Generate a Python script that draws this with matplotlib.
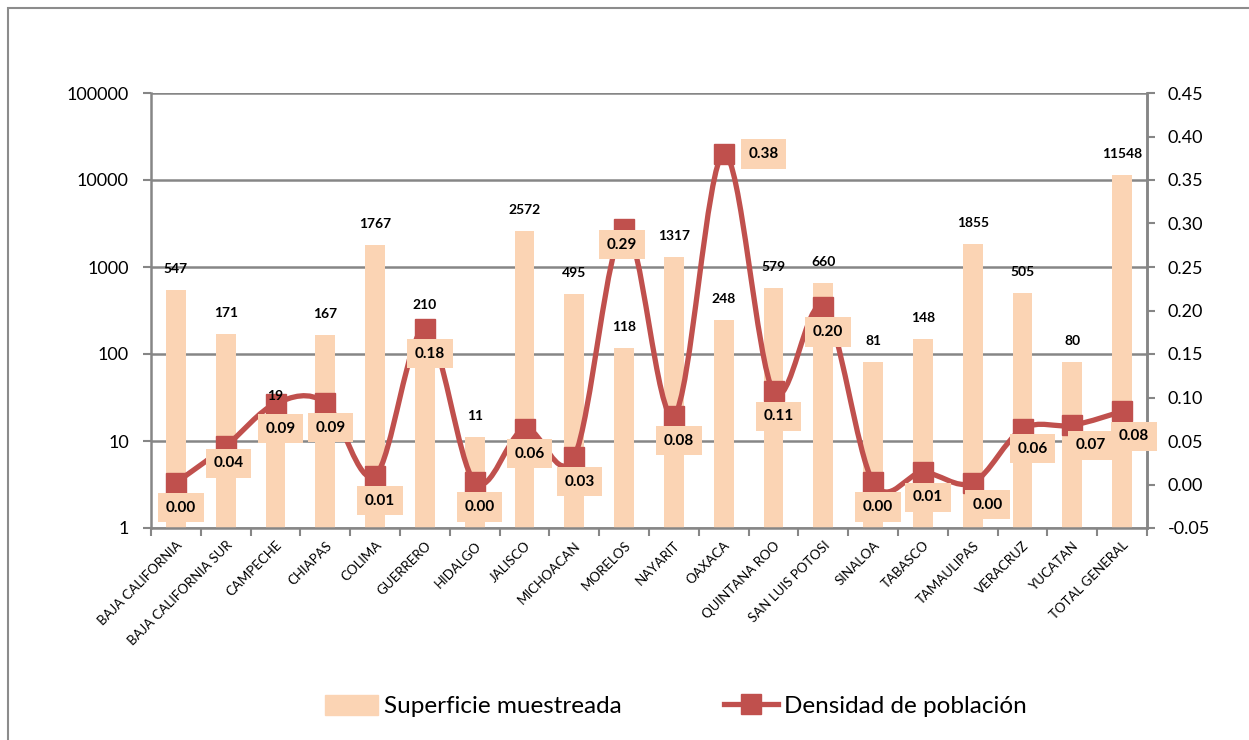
import numpy as np
import matplotlib.pyplot as plt
from matplotlib.path import Path
from matplotlib.patches import PathPatch, Rectangle

plt.rcParams['font.family'] = ['Lato', 'DejaVu Sans']

estados = ['BAJA CALIFORNIA', 'BAJA CALIFORNIA SUR', 'CAMPECHE', 'CHIAPAS', 'COLIMA',
           'GUERRERO', 'HIDALGO', 'JALISCO', 'MICHOACAN', 'MORELOS', 'NAYARIT', 'OAXACA',
           'QUINTANA ROO', 'SAN LUIS POTOSI', 'SINALOA', 'TABASCO', 'TAMAULIPAS',
           'VERACRUZ', 'YUCATAN', 'TOTAL GENERAL']
superficie = [547, 171, 19, 167, 1767, 210, 11, 2572, 495, 118, 1317, 248, 579, 660,
              81, 148, 1855, 505, 80, 11548]
densidad = [0.002, 0.044, 0.093, 0.094, 0.010, 0.179, 0.003, 0.064, 0.032, 0.294, 0.079,
            0.380, 0.107, 0.204, 0.003, 0.014, 0.002, 0.064, 0.068, 0.084]

barra_color = '#FBD4B4'
linea_color = '#C0504D'
gris = '#868686'

fig = plt.figure(figsize=(12.49, 7.40), dpi=100)
fig.patches.append(Rectangle((8 / 1249, -0.1), 1.2, 1 - 8 / 740 + 0.1, transform=fig.transFigure,
                             fill=False, edgecolor='#8c8c8c', linewidth=1.5))

ax = fig.add_axes([151 / 1249, 1 - 528 / 740, (1147 - 151) / 1249, (528 - 93) / 740])
x = np.arange(len(estados))

ax.bar(x, superficie, width=0.4, color=barra_color, zorder=2)
ax.set_yscale('log')
ax.set_ylim(1, 100000)
ax.set_xlim(-0.5, len(estados) - 0.5)
ax.set_yticks([1, 10, 100, 1000, 10000, 100000])
ax.set_yticklabels(['1', '10', '100', '1000', '10000', '100000'], fontsize=13)
ax.yaxis.set_minor_locator(plt.NullLocator())
ax.grid(axis='y', color=gris, linewidth=1.8, zorder=0)
ax.set_axisbelow(True)

ax.set_xticks(x)
ax.set_xticklabels(estados, rotation=45, ha='right', rotation_mode='anchor', fontsize=9.5)
ax.set_xticks(np.arange(-0.5, len(estados)), minor=True)
ax.tick_params(axis='x', which='major', length=0, pad=8)
ax.tick_params(axis='x', which='minor', length=6, color=gris, width=1.5)
ax.tick_params(axis='y', length=6, color=gris, width=1.5, pad=10)

ax.spines['top'].set_visible(False)
for s in ['left', 'bottom', 'right']:
    ax.spines[s].set_color(gris)
    ax.spines[s].set_linewidth(1.8)

ax2 = ax.twinx()
ax2.set_ylim(-0.05, 0.45)
ax2.set_yticks(np.arange(-0.05, 0.451, 0.05))
ax2.set_yticklabels([f'{t:.2f}' for t in np.arange(-0.05, 0.451, 0.05)], fontsize=13)
ax2.tick_params(axis='y', length=6, color=gris, width=1.5, pad=9)
for s in ['top', 'left', 'bottom']:
    ax2.spines[s].set_visible(False)
ax2.spines['right'].set_color(gris)
ax2.spines['right'].set_linewidth(1.8)

# linea suavizada (bezier tipo Excel)
pts = np.column_stack([x, densidad]).astype(float)
verts = [pts[0]]
codes = [Path.MOVETO]
n = len(pts)
for i in range(n - 1):
    p0 = pts[max(i - 1, 0)]
    p1 = pts[i]
    p2 = pts[i + 1]
    p3 = pts[min(i + 2, n - 1)]
    verts += [p1 + (p2 - p0) / 6, p2 - (p3 - p1) / 6, p2]
    codes += [Path.CURVE4] * 3
ax2.add_patch(PathPatch(Path(verts, codes), facecolor='none', edgecolor=linea_color,
                        linewidth=3.8, zorder=3, capstyle='round', joinstyle='round'))
ax2.plot(x, densidad, linestyle='none', marker='s', markersize=14, color=linea_color, zorder=4)

# etiquetas de las barras (por encima de la linea)
for xi, v in zip(x, superficie):
    ax2.annotate(str(v), (xi, v), xycoords=ax.transData, xytext=(0, 21),
                 textcoords='offset pixels', ha='center', va='center',
                 fontsize=10, fontweight='bold', zorder=6)

offsets = [(5, -25)] * n
offsets[1] = (3, -17)
offsets[9] = (-2, -16)
offsets[11] = (40, 0)
offsets[16] = (15, -22)
offsets[17] = (10, -20)
offsets[18] = (18, -20)
offsets[19] = (12, -25)
for xi, v, off in zip(x, densidad, offsets):
    ax2.annotate(f'{v:.2f}', (xi, v), xytext=off, textcoords='offset pixels',
                 ha='center', va='center', fontsize=11, fontweight='bold', zorder=5,
                 bbox=dict(boxstyle='square,pad=0.5', facecolor=barra_color, edgecolor='none'))

h1 = plt.Rectangle((0, 0), 1, 1, color=barra_color)
h2, = plt.plot([], [], color=linea_color, linewidth=3.8, marker='s', markersize=14)
fig.legend([h1, h2], ['Superficie muestreada', 'Densidad de población'], ncol=2,
           loc='center', bbox_to_anchor=(0.541, 1 - 706 / 740), frameon=False, fontsize=17.5,
           handlelength=2.2, handleheight=0.9, columnspacing=4.2, handletextpad=0.25)

fig.savefig('out.png', dpi=100)
